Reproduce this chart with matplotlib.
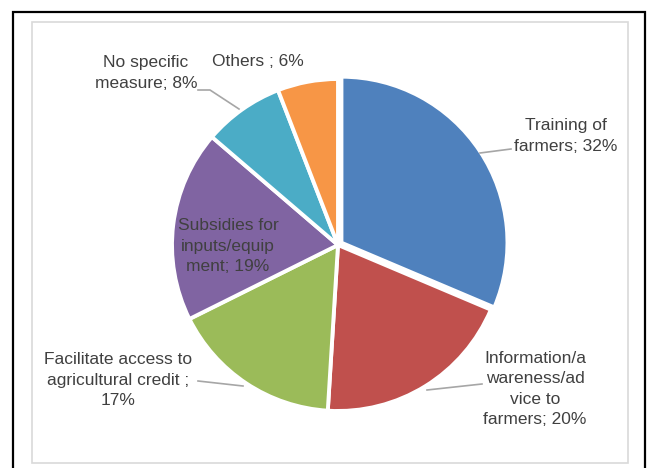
import matplotlib.pyplot as plt
from matplotlib.patches import Rectangle

plt.rcParams['font.family'] = ['Liberation Sans', 'DejaVu Sans']

labels = ['Training of\nfarmers; 32%',
          'Information/a\nwareness/ad\nvice to\nfarmers; 20%',
          'Facilitate access to\nagricultural credit ;\n17%',
          'Subsidies for\ninputs/equip\nment; 19%',
          'No specific\nmeasure; 8%',
          'Others ; 6%']
shares = [32, 20, 17, 19, 8, 6]
colors = ['#4F81BD', '#C0504D', '#9BBB59', '#8064A2', '#4BACC6', '#F79646']

W, H = 647, 468
fig = plt.figure(figsize=(W / 100, H / 100), dpi=100)

# frames: outer black box, inner grey chart area
fig.patches.append(Rectangle((13 / W, -0.05), (645 - 13) / W, (H - 12) / H + 0.05,
                             transform=fig.transFigure, fill=False,
                             edgecolor='black', linewidth=1.6))
fig.patches.append(Rectangle((32 / W, (H - 463) / H), (628 - 32) / W, (463 - 22) / H,
                             transform=fig.transFigure, fill=False,
                             edgecolor='#D9D9D9', linewidth=1.2))

cx, cy, r = 338, 245, 166
ax = fig.add_axes([(cx - r) / W, (H - cy - r) / H, 2 * r / W, 2 * r / H])
ax.pie(shares, colors=colors, startangle=90, counterclock=False,
       explode=[0.025, 0, 0, 0, 0, 0],
       wedgeprops=dict(edgecolor='white', linewidth=2.8))
ax.set_xlim(-1, 1)
ax.set_ylim(-1, 1)
ax.set_aspect('equal')
ax.axis('off')


def px(x, y):
    return ((x - cx) / r, (cy - y) / r)


# label centres and leader lines (pixels)
label_pos = [(566, 136), (535, 389), (118, 380), (228, 246), (146, 73), (258, 62)]
leaders = [
    [(480, 153), (511, 149)],
    [(427, 390), (482, 384)],
    [(198, 381), (243, 386)],
    None,
    [(198, 90), (210, 90), (239, 109)],
    None,
]

for lab, (x, y), pts in zip(labels, label_pos, leaders):
    ax.text(*px(x, y), lab, fontsize=12.5, color='#404040', ha='center',
            va='center', linespacing=1.45, clip_on=False)
    if pts:
        xs, ys = zip(*[px(a, b) for a, b in pts])
        ax.plot(xs, ys, color='#A6A6A6', lw=1.2, clip_on=False)

fig.savefig('out.png', dpi=100)
